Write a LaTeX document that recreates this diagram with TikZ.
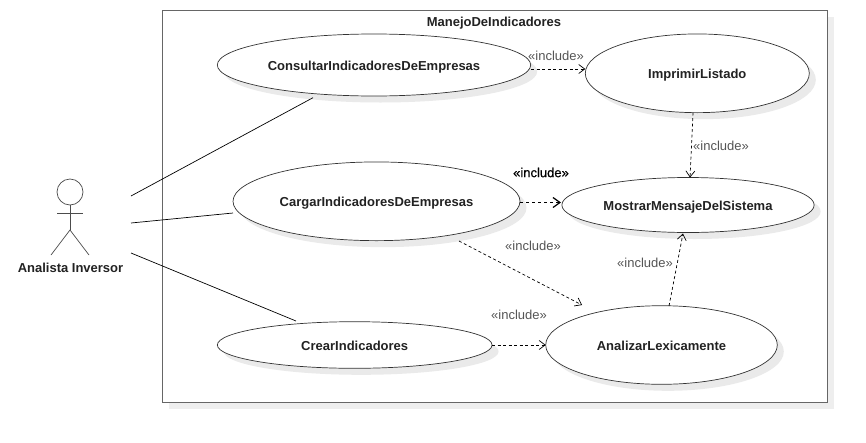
\documentclass[tikz,border=0pt]{standalone}
\usepackage{fontspec}
\setmainfont{Liberation Sans}
\newfontfamily\fakebold[FakeBold=0.5]{Liberation Sans}
\usetikzlibrary{arrows.meta,shapes.geometric}
\definecolor{shadowc}{HTML}{EAEAEA}
\definecolor{framec}{HTML}{666666}
\definecolor{labelc}{HTML}{555555}
\definecolor{darktxt}{HTML}{222222}
\tikzset{
  x=1pt,y=-1pt,
  usecase/.style={ellipse,draw=black!80,line width=0.7pt,fill=white,inner sep=0pt,
    font=\fontsize{13}{15}\selectfont\bfseries,text=darktxt,text height=12pt,text depth=2pt},
  ucshadow/.style={ellipse,fill=shadowc,inner sep=0pt,draw=none},
  assoc/.style={draw=black,line width=0.7pt},
  incl/.style={draw=black,line width=0.7pt,dash pattern=on 3pt off 2.5pt,-{Straight Barb[length=6pt,width=9pt,line width=0.7pt]}},
  inclbold/.style={draw=black,line width=1.6pt,dash pattern=on 3pt off 3pt,-{Straight Barb[length=7pt,width=10pt,line width=1.2pt]}},
  incltext/.style={font=\fontsize{13}{15}\selectfont,text=labelc,inner sep=0pt},
  actorline/.style={draw=black!70,line width=0.7pt},
}
\begin{document}
\begin{tikzpicture}
\useasboundingbox (0,0) rectangle (866,442);
\fill[white] (0,0) rectangle (866,442);
% frame
\fill[shadowc!80!white] (169,17) rectangle (834,409);
\node[draw=framec,line width=1.2pt,fill=white,minimum width=665pt,minimum height=392pt,inner sep=0pt,anchor=north west] (frame) at (162,10) {};
\node[font=\fontsize{13}{15}\selectfont\bfseries,text=darktxt,inner sep=0pt] (title) at (494,23) {ManejoDeIndicadores};
% shadows
\node[ucshadow,minimum width=313.4pt,minimum height=62pt] (s1) at (380.5,71.5) {};
\node[ucshadow,minimum width=224pt,minimum height=78.7pt] (s2) at (703.8,79.8) {};
\node[ucshadow,minimum width=287pt,minimum height=78.7pt] (s3) at (383,207.8) {};
\node[ucshadow,minimum width=252.3pt,minimum height=55pt] (s4) at (694.5,211.5) {};
\node[ucshadow,minimum width=274.7pt,minimum height=46.6pt] (s5) at (361.2,351.5) {};
\node[ucshadow,minimum width=231.6pt,minimum height=78.6pt] (s6) at (668,351.5) {};
% use cases
\node[usecase,minimum width=313.4pt,minimum height=62pt] (consultar) at (374,65) {ConsultarIndicadoresDeEmpresas};
\node[usecase,minimum width=224pt,minimum height=78.7pt] (imprimir) at (697.3,73.3) {ImprimirListado};
\node[usecase,minimum width=287pt,minimum height=78.7pt] (cargar) at (376.5,201.3) {CargarIndicadoresDeEmpresas};
\node[usecase,minimum width=252.3pt,minimum height=55pt] (mostrar) at (688,205) {MostrarMensajeDelSistema};
\node[usecase,minimum width=274.7pt,minimum height=46.6pt] (crear) at (354.7,345) {CrearIndicadores};
\node[usecase,minimum width=231.6pt,minimum height=78.6pt] (analizar) at (661.5,345) {AnalizarLexicamente};
% actor
\node[circle,draw=black!70,line width=0.7pt,minimum size=26pt,inner sep=0pt] (head) at (70,192) {};
\coordinate (hip) at (70,230);
\coordinate (armL) at (57,213);
\coordinate (armR) at (83,213);
\coordinate (legL) at (51,255);
\coordinate (legR) at (89,255);
\draw[actorline] (head.south) -- (hip);
\draw[actorline] (armL) -- (armR);
\draw[actorline] (legL) -- (hip) -- (legR);
\node[font=\fontsize{13}{15}\selectfont\bfseries,text=darktxt,inner sep=0pt] (actorname) at (70.5,268) {Analista Inversor};
% associations
\coordinate (a1) at (131,196);
\coordinate (a2) at (131,223);
\coordinate (a3) at (131,253);
\coordinate (e1) at (313,97.7);
\coordinate (e2) at (233,213);
\coordinate (e3) at (296,321);
\draw[assoc] (a1) -- (e1);
\draw[assoc] (a2) -- (e2);
\draw[assoc] (a3) -- (e3);
% includes
\coordinate (i1a) at (531,69);
\coordinate (i1b) at (585.3,69);
\draw[incl] (i1a) -- (i1b);
\coordinate (i2a) at (693,112.7);
\coordinate (i2b) at (690,177.5);
\draw[incl] (i2a) -- (i2b);
\coordinate (i3a) at (520,202.5);
\coordinate (i3b) at (561,202.5);
\draw[inclbold] (i3a) -- (i3b);
\coordinate (i4a) at (459,241);
\coordinate (i4b) at (582,305);
\draw[incl] (i4a) -- (i4b);
\coordinate (i5a) at (492,345);
\coordinate (i5b) at (545.7,345);
\draw[incl] (i5a) -- (i5b);
\coordinate (i6a) at (669,306);
\coordinate (i6b) at (683,233.5);
\draw[incl] (i6a) -- (i6b);
% labels
\node[incltext] (l1) at (556,55.5) {«include»};
\node[incltext] (l2) at (721,146) {«include»};
\node[incltext,text=black,font=\fontsize{13}{15}\fakebold\selectfont] (l3) at (541,172.5) {«include»};
\node[incltext] (l4) at (533,246) {«include»};
\node[incltext] (l5) at (645,263) {«include»};
\node[incltext] (l6) at (519,315) {«include»};
\end{tikzpicture}
\end{document}
